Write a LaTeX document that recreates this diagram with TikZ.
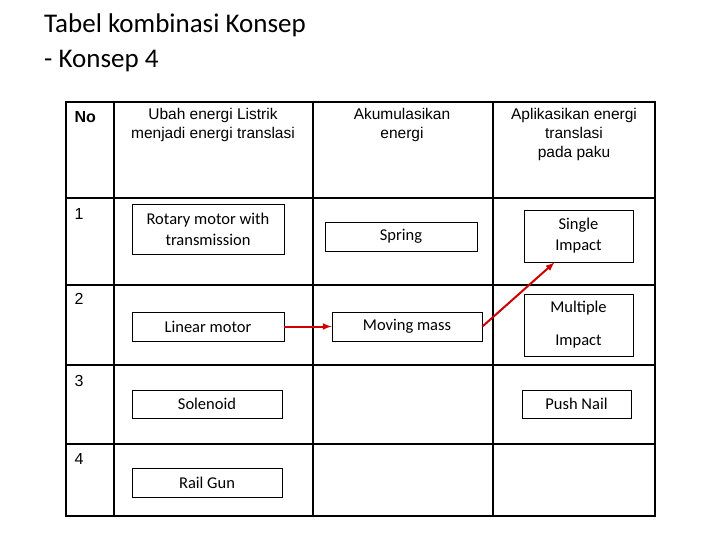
\documentclass[tikz,border=0pt]{standalone}
\usepackage{fontspec}
\setmainfont{Liberation Sans}
\newfontfamily\calfont{Carlito}
\begin{document}
\begin{tikzpicture}[x=1pt,y=-1pt,
 bx/.style={draw,line width=0.8pt,font=\calfont\fontsize{16.5}{21}\selectfont,align=center,inner sep=0pt},
 hd/.style={font=\fontsize{15.5}{19}\selectfont,align=center,anchor=north},
 num/.style={font=\fontsize{16}{19}\selectfont,anchor=west},
 tl/.style={line width=1.8pt},
 ar/.style={draw=red!80!black,line width=2pt,-latex}]
\useasboundingbox (0,0) rectangle (720,540);
\node[anchor=north west,align=left,font=\calfont\fontsize{27}{35}\selectfont,inner sep=0pt] (title) at (44,14) {Tabel kombinasi Konsep\\- Konsep 4};
\draw[tl] (66,102) rectangle (655,516);
\foreach \x in {114,313,493} \draw[tl] (\x,102) -- (\x,516);
\foreach \y in {198,285,365,444} \draw[tl] (66,\y) -- (655,\y);
\node[num,font=\bfseries\fontsize{16}{19}\selectfont] (no) at (71,117) {No};
\node[num] (n1) at (71,214) {1};
\node[num] (n2) at (71,299) {2};
\node[num] (n3) at (71,381) {3};
\node[num] (n4) at (71,459) {4};
\node[hd] (h1) at (213,105) {Ubah energi Listrik\\menjadi energi translasi};
\node[hd] (h2) at (402,105) {Akumulasikan\\energi};
\node[hd] (h3) at (574,105) {Aplikasikan energi\\translasi\\pada paku};
\node[bx,minimum width=152,minimum height=50] (rot) at (208,229) {Rotary motor with\\transmission};
\node[bx,minimum width=152,minimum height=29] (spr) at (401,236.5) {Spring};
\node[bx,minimum width=109,minimum height=52] (sin) at (578.5,236) {Single\\Impact};
\node[bx,minimum width=152,minimum height=29] (lin) at (208,326.5) {Linear motor};
\node[bx,minimum width=150,minimum height=29] (mov) at (407,326.5) {Moving mass};
\node[bx,minimum width=109,minimum height=62] (mul) at (578.5,325) {Multiple\\[12pt]Impact};
\node[bx,minimum width=150,minimum height=28] (sol) at (207,404) {Solenoid};
\node[bx,minimum width=109,minimum height=28] (push) at (576.5,404) {Push Nail};
\node[bx,minimum width=150,minimum height=29] (rail) at (207,482.5) {Rail Gun};
\draw[ar] (lin.east) -- (mov.west);
\draw[ar] (mov.east) -- ([xshift=-24pt]sin.south);
\end{tikzpicture}
\end{document}
